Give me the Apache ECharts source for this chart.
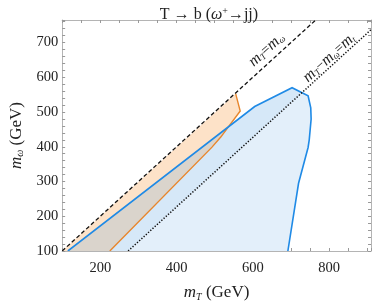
<!DOCTYPE html>
<html><head><meta charset="utf-8">
<script src="https://cdn.jsdelivr.net/npm/echarts@6/dist/echarts.min.js"></script>
<style>html,body{margin:0;padding:0;background:#fff}#c{width:374px;height:307px}</style>
</head><body><div id="c"></div>
<script>
// ---- data ----
const xLabelValues = [200, 400, 600, 800];
const yLabelValues = [100, 200, 300, 400, 500, 600, 700];
const xRange = [100, 910];
const yRange = [100, 765];
// blue region boundary (clockwise from bottom-left)
const blueRegion = [[115,100],[605,516],[703,570],[745,547],[752,512],[753,480],[748,420],[745,398],[720,295],[692,100]];
const blueUpperEdge = [[115,100],[605,516]];
// orange region
const orangeRegion = [[100,100],[555,553],[567,503],[516,428],[493,399],[225,100]];
const orangeEdge = [[555,553],[567,503],[516,428],[493,399],[225,100]];
// reference lines
const lineEqual = [[100,100],[765,765]];        // m_T = m_w
const lineTop = [[273,100],[910,737]];           // m_T - m_w = m_t
const lineLabels = [
  {pos:[636,680], text:'{i|m}{s|T}{n|=}{i|m}{s|ω}'},
  {pos:[800,656], text:'{i|m}{s|T}{n|−}{i|m}{s|ω}{n|=}{i|m}{s|t}'}
];

// keep the part of polygon on one side of the line a->b (sgn=+1 left, -1 right), data space
function clipSide(poly, a, b, sgn) {
  const side = p => sgn * ((b[0]-a[0])*(p[1]-a[1]) - (b[1]-a[1])*(p[0]-a[0]));
  const out = [];
  for (let i = 0; i < poly.length; i++) {
    const p = poly[i], q = poly[(i+1) % poly.length];
    const sp = side(p), sq = side(q);
    if (sp >= 0) out.push(p);
    if ((sp >= 0) !== (sq >= 0)) {
      const t = sp / (sp - sq);
      out.push([p[0] + t*(q[0]-p[0]), p[1] + t*(q[1]-p[1])]);
    }
  }
  return out;
}
const blueAbove = clipSide(blueRegion, lineTop[0], lineTop[1], 1);
const overlap = clipSide(orangeRegion, blueUpperEdge[0], blueUpperEdge[1], -1);

const SERIF = '"Liberation Serif","DejaVu Serif",serif';
const chart = echarts.init(document.getElementById('c'), null, {renderer:'canvas'});

function shape(points, style, closed) {
  return {
    type: 'custom', coordinateSystem: 'cartesian2d', clip: true, silent: true,
    data: points,
    renderItem: function (params, api) {
      if (params.dataIndex !== 0) return null;
      const pts = points.map(p => api.coord(p));
      return {type: closed ? 'polygon' : 'polyline', shape: {points: pts}, style: style, silent: true};
    }
  };
}

const labelSeries = {
  type: 'custom', coordinateSystem: 'cartesian2d', clip: false, silent: true,
  data: lineLabels.map(l => l.pos),
  renderItem: function (params, api) {
    const p0 = api.coord(lineEqual[0]), p1 = api.coord(lineEqual[1]);
    const ang = Math.atan2(p0[1] - p1[1], p1[0] - p0[0]);
    const c = api.coord(lineLabels[params.dataIndex].pos);
    return {
      type: 'text', x: c[0], y: c[1], rotation: ang, silent: true,
      style: {
        text: lineLabels[params.dataIndex].text, align: 'center', verticalAlign: 'middle',
        fill: '#222',
        rich: {
          i: {fontFamily: SERIF, fontStyle: 'italic', fontSize: 16, fill: '#222'},
          s: {fontFamily: SERIF, fontStyle: 'italic', fontSize: 9, fill: '#222', verticalAlign: 'bottom', padding:[7,0,0,0]},
          n: {fontFamily: SERIF, fontSize: 14, fill: '#222'}
        }
      }
    };
  }
};

const axisCommon = {
  type: 'value',
  axisLine: {show: true, lineStyle: {color: '#b4b4b4', width: 1}},
  axisTick: {show: true, inside: true, length: 3, lineStyle: {color: '#999'}},
  splitLine: {show: false}
};
const nameRich = {
  i: {fontFamily: SERIF, fontStyle: 'italic', fontSize: 17, color:'#222'},
  s: {fontFamily: SERIF, fontStyle: 'italic', fontSize: 10, color:'#222', verticalAlign:'bottom', padding:[8,0,0,0]}
};

chart.setOption({
  animation: false,
  backgroundColor: '#fff',
  title: {
    text: 'T → b ({it|ω}{sup|+}→jj)', left: 204, top: 1, textAlign: 'center',
    textStyle: {
      fontFamily: SERIF, fontSize: 16, fontWeight: 'normal', color: '#222',
      rich: {
        it: {fontFamily: SERIF, fontStyle: 'italic', fontSize: 16, color: '#222'},
        sup: {fontFamily: SERIF, fontSize: 10, color: '#222', verticalAlign: 'top', padding: [0,0,8,0]}
      }
    }
  },
  grid: {left: 54, right: 2, top: 20, bottom: 51, containLabel: false},
  xAxis: [
    Object.assign({}, axisCommon, {
      position: 'bottom', min: xRange[0], max: xRange[1], interval: 50,
      axisLabel: {show: true, margin: 10, fontFamily: SERIF, fontSize: 14.5, color: '#222',
        formatter: v => xLabelValues.includes(v) ? String(v) : ''},
      name: '{i|m}{s|T} (GeV)', nameLocation: 'middle', nameGap: 33,
      nameTextStyle: {fontFamily: SERIF, fontSize: 17, color: '#222', rich: nameRich}
    }),
    Object.assign({}, axisCommon, {
      position: 'top', min: xRange[0], max: xRange[1], interval: 50,
      axisLabel: {show: false}
    })
  ],
  yAxis: [
    Object.assign({}, axisCommon, {
      position: 'left', min: yRange[0], max: yRange[1], interval: 20,
      axisLabel: {show: true, margin: 4, fontFamily: SERIF, fontSize: 14.5, color: '#222',
        formatter: v => yLabelValues.includes(v) ? String(v) : ''},
      name: '{i|m}{s|ω} (GeV)', nameLocation: 'middle', nameGap: 36, nameRotate: 90,
      nameTextStyle: {fontFamily: SERIF, fontSize: 17, color: '#222', rich: nameRich}
    }),
    Object.assign({}, axisCommon, {
      position: 'right', min: yRange[0], max: yRange[1], interval: 20,
      axisLabel: {show: false}
    })
  ],
  series: [
    shape(blueRegion, {fill: '#e3effa', stroke: null}, true),
    shape(blueAbove, {fill: '#d6e8f8', stroke: null}, true),
    shape(orangeRegion, {fill: '#fde2c8', stroke: null}, true),
    shape(overlap, {fill: '#dad4cc', stroke: null}, true),
    shape(orangeEdge, {fill: null, stroke: '#e8862c', lineWidth: 1.4}, false),
    shape(blueRegion, {fill: null, stroke: '#1f8ae6', lineWidth: 1.6}, false),
    shape(lineEqual, {fill: null, stroke: '#111', lineWidth: 1.3, lineDash: [4, 2.5]}, false),
    shape(lineTop, {fill: null, stroke: '#111', lineWidth: 1.5, lineDash: [1.3, 1.7]}, false),
    labelSeries
  ]
});
</script>
</body></html>
